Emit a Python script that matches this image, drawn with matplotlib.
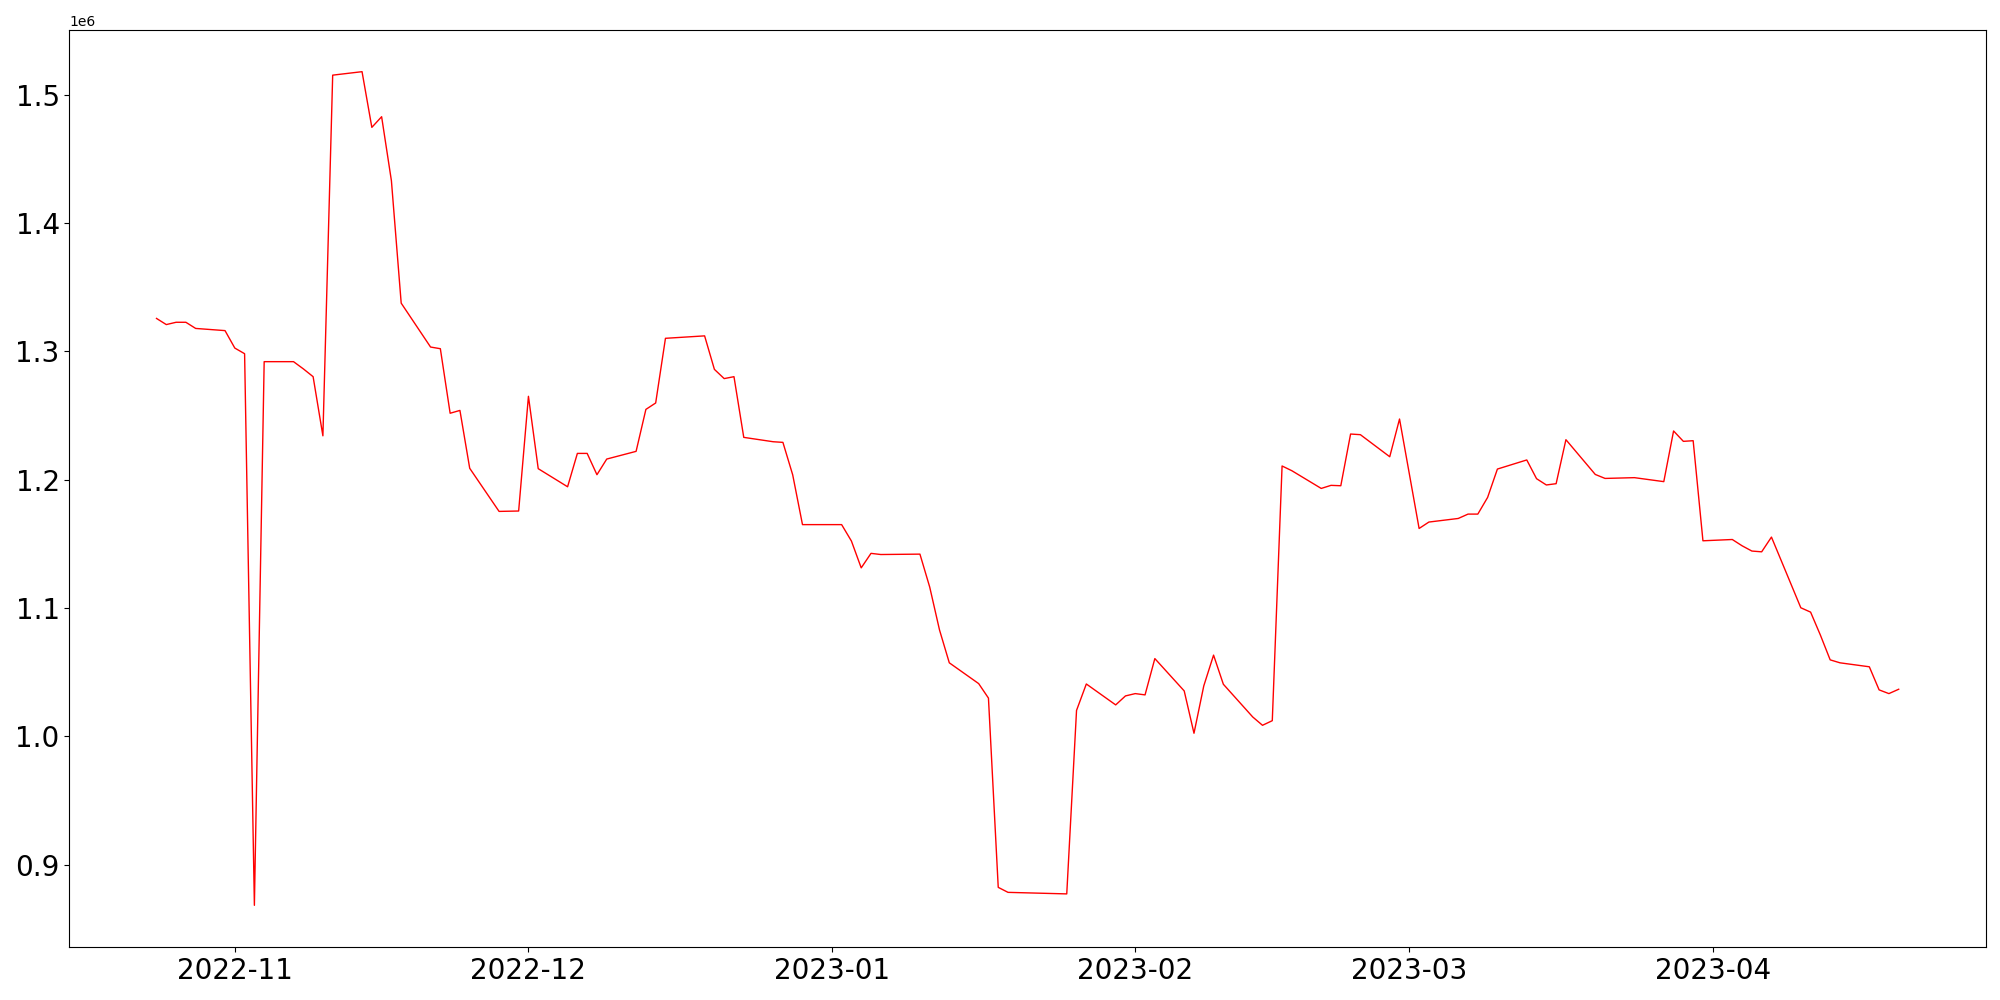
import matplotlib
matplotlib.use("Agg")
import matplotlib.pyplot as plt
import pandas as pd

dates = [
    "2022-10-24", "2022-10-25", "2022-10-26", "2022-10-27", "2022-10-28",
    "2022-10-31", "2022-11-01", "2022-11-02", "2022-11-03", "2022-11-04",
    "2022-11-07", "2022-11-08", "2022-11-09", "2022-11-10", "2022-11-11",
    "2022-11-14", "2022-11-15", "2022-11-16", "2022-11-17", "2022-11-18",
    "2022-11-21", "2022-11-22", "2022-11-23", "2022-11-24", "2022-11-25",
    "2022-11-28", "2022-11-30", "2022-12-01", "2022-12-02",
    "2022-12-05", "2022-12-06", "2022-12-07", "2022-12-08", "2022-12-09",
    "2022-12-12", "2022-12-13", "2022-12-14", "2022-12-15",
    "2022-12-19", "2022-12-20", "2022-12-21", "2022-12-22", "2022-12-23",
    "2022-12-26", "2022-12-27", "2022-12-28", "2022-12-29",
    "2023-01-02", "2023-01-03", "2023-01-04", "2023-01-05", "2023-01-06",
    "2023-01-10", "2023-01-11", "2023-01-12", "2023-01-13",
    "2023-01-16", "2023-01-17", "2023-01-18", "2023-01-19",
    "2023-01-25", "2023-01-26", "2023-01-27",
    "2023-01-30", "2023-01-31", "2023-02-01", "2023-02-02", "2023-02-03",
    "2023-02-06", "2023-02-07", "2023-02-08", "2023-02-09", "2023-02-10",
    "2023-02-13", "2023-02-14", "2023-02-15", "2023-02-16", "2023-02-17",
    "2023-02-20", "2023-02-21", "2023-02-22", "2023-02-23", "2023-02-24",
    "2023-02-27", "2023-02-28", "2023-03-02", "2023-03-03",
    "2023-03-06", "2023-03-07", "2023-03-08", "2023-03-09", "2023-03-10",
    "2023-03-13", "2023-03-14", "2023-03-15", "2023-03-16", "2023-03-17",
    "2023-03-20", "2023-03-21", "2023-03-24",
    "2023-03-27", "2023-03-28", "2023-03-29", "2023-03-30", "2023-03-31",
    "2023-04-03", "2023-04-04", "2023-04-05", "2023-04-06", "2023-04-07",
    "2023-04-10", "2023-04-11", "2023-04-12", "2023-04-13", "2023-04-14",
    "2023-04-17", "2023-04-18", "2023-04-19", "2023-04-20",
]

values = [
    1.3257, 1.3209, 1.3227, 1.3227, 1.3179,
    1.3162, 1.3026, 1.2982, 0.8683, 1.2920,
    1.2920, 1.2864, 1.2803, 1.2342, 1.5153,
    1.5180, 1.4746, 1.4829, 1.4330, 1.3376,
    1.3034, 1.3021, 1.2518, 1.2540, 1.2089,
    1.1753, 1.1756, 1.2650, 1.2086,
    1.1945, 1.2205, 1.2205, 1.2039, 1.2161,
    1.2221, 1.2548, 1.2598, 1.3102,
    1.3121, 1.2860, 1.2788, 1.2803, 1.2330,
    1.2296, 1.2291, 1.2038, 1.1650,
    1.1650, 1.1522, 1.1313, 1.1426, 1.1417,
    1.1420, 1.1163, 1.0829, 1.0573,
    1.0411, 1.0298, 0.8823, 0.8784,
    0.8772, 1.0202, 1.0408,
    1.0245, 1.0315, 1.0333, 1.0323, 1.0606,
    1.0354, 1.0024, 1.0393, 1.0633, 1.0406,
    1.0151, 1.0086, 1.0122, 1.2107, 1.2070,
    1.1932, 1.1956, 1.1953, 1.2356, 1.2351,
    1.2179, 1.2473, 1.1620, 1.1670,
    1.1698, 1.1732, 1.1732, 1.1862, 1.2083,
    1.2154, 1.2008, 1.1959, 1.1969, 1.2312,
    1.2041, 1.2010, 1.2016,
    1.1985, 1.2380, 1.2299, 1.2304, 1.1524,
    1.1534, 1.1485, 1.1444, 1.1438, 1.1553,
    1.1002, 1.0968, 1.0789, 1.0596, 1.0573,
    1.0542, 1.0362, 1.0333, 1.0367,
]

x = pd.to_datetime(dates)
y = [v * 1e6 for v in values]

fig = plt.figure(figsize=(20, 10), dpi=100)
ax = fig.add_axes([0.0347, 0.053, 0.9582, 0.917])
ax.plot(x, y, color="red", linewidth=1.0)
ax.tick_params(axis="both", labelsize=20)
ax.yaxis.get_offset_text().set_fontsize(10)
fig.savefig("out.png", dpi=100)
